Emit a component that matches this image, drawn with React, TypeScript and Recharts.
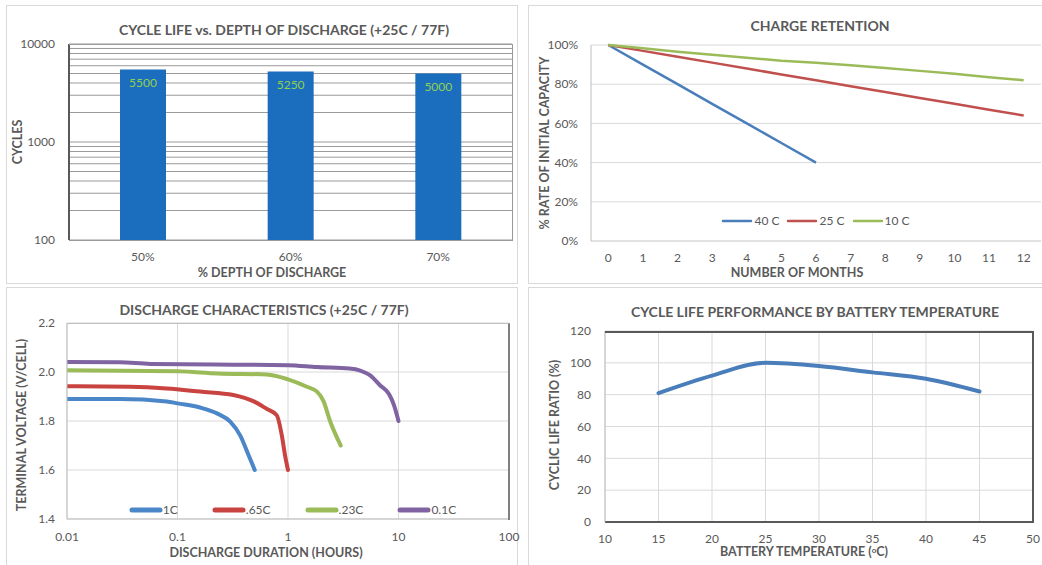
import React from "react";
import {
  BarChart, Bar, LineChart, Line, XAxis, YAxis, CartesianGrid, LabelList, Legend,
} from "recharts";

// ---- cycle life vs depth of discharge
const DOD_LABELS = ["50%", "60%", "70%"];
const DOD_CYCLES = [5500, 5250, 5000];
const CYCLE_TICKS = [100, 200, 300, 400, 500, 600, 700, 800, 900, 1000, 2000, 3000, 4000, 5000, 6000, 7000, 8000, 9000, 10000];
const CYCLE_LABELED = [100, 1000, 10000];

// ---- charge retention
const MONTHS = [0, 1, 2, 3, 4, 5, 6, 7, 8, 9, 10, 11, 12];
const RET_40C = [1.0, 0.9, 0.8, 0.7, 0.6, 0.5, 0.4, null, null, null, null, null, null];
const RET_25C = [1.0, 0.97, 0.94, 0.91, 0.88, 0.85, 0.82, 0.79, 0.76, 0.73, 0.7, 0.67, 0.64];
const RET_10C = [1.0, 0.983, 0.966, 0.95, 0.935, 0.92, 0.91, 0.897, 0.883, 0.868, 0.853, 0.836, 0.82];
const RET_SERIES = ["40 C", "25 C", "10 C"];
const PCT_TICKS = [0, 0.2, 0.4, 0.6, 0.8, 1.0];

// ---- discharge characteristics (hours, volts/cell)
const D1C_H = [0.01, 0.03, 0.08, 0.1, 0.16, 0.23, 0.3, 0.37, 0.44, 0.5];
const D1C_V = [1.89, 1.89, 1.88, 1.872, 1.855, 1.83, 1.797, 1.74, 1.66, 1.6];
const D065_H = [0.01, 0.037, 0.08, 0.16, 0.32, 0.49, 0.64, 0.79, 0.88, 0.94, 1.0];
const D065_V = [1.942, 1.94, 1.933, 1.92, 1.906, 1.88, 1.85, 1.824, 1.74, 1.66, 1.6];
const D023_H = [0.01, 0.1, 0.23, 0.64, 1.0, 1.48, 1.83, 2.1, 2.4, 3.0];
const D023_V = [2.007, 2.003, 1.994, 1.99, 1.97, 1.94, 1.92, 1.88, 1.8, 1.7];
const D01_H = [0.01, 0.03, 0.057, 0.32, 1.0, 1.83, 3.6, 4.5, 5.5, 6.8, 8.2, 9.1, 10];
const D01_V = [2.041, 2.04, 2.033, 2.03, 2.028, 2.02, 2.014, 2.006, 1.987, 1.946, 1.91, 1.865, 1.8];
const DIS_SERIES = ["1C", ".65C", ".23C", "0.1C"];
const HOUR_TICKS = [0.01, 0.1, 1, 10, 100];
const VOLT_TICKS = [1.4, 1.6, 1.8, 2.0, 2.2];

// ---- cycle life by temperature
const TEMPS = [15, 20, 25, 30, 35, 40, 45];
const LIFE_RATIO = [81, 92, 100, 98, 94, 90, 82];
const TEMP_TICKS = [10, 15, 20, 25, 30, 35, 40, 45, 50];
const RATIO_TICKS = [0, 20, 40, 60, 80, 100, 120];

const TXT = "#595959";
const TICK = { fill: TXT, fontSize: 12 };
const LIGHT = "#d9d9d9";

const zip = (xs: number[], ys: number[]) => xs.map((x, i) => ({ x, y: ys[i] }));

function Text({ x, y, children, rotate, size = 12.5 }: any) {
  return (
    <div
      style={{
        position: "absolute", left: x, top: y, whiteSpace: "nowrap",
        transform: `translate(-50%, -50%)${rotate ? " rotate(-90deg)" : ""}`,
        fontWeight: 700, fontSize: size, color: TXT, lineHeight: 1,
      }}
    >
      {children}
    </div>
  );
}

function Box({ x, y, w, h, style }: any) {
  return <div style={{ position: "absolute", left: x, top: y, width: w, height: h, boxSizing: "border-box", pointerEvents: "none", ...style }} />;
}

function LineLegend({ payload, order, thick, gap }: any) {
  const items = [...(payload || [])].sort((a: any, b: any) => order.indexOf(a.value) - order.indexOf(b.value));
  return (
    <div style={{ display: "flex", justifyContent: "center", gap, fontSize: 12, color: TXT }}>
      {items.map((p: any) => (
        <div key={p.value} style={{ display: "flex", alignItems: "center" }}>
          <svg width={34} height={8}>
            <line x1={3} y1={4} x2={31} y2={4} stroke={p.color} strokeWidth={thick} strokeLinecap="round" />
          </svg>
          <span>{p.value}</span>
        </div>
      ))}
    </div>
  );
}

export default function App() {
  const dodData = DOD_LABELS.map((d, i) => ({ dod: d, cycles: DOD_CYCLES[i] }));
  const retData = MONTHS.map((m, i) => ({ month: m, c40: RET_40C[i], c25: RET_25C[i], c10: RET_10C[i] }));
  const tempData = zip(TEMPS, LIFE_RATIO);

  return (
    <div style={{ position: "absolute", left: 0, top: 0, width: 1042, height: 565, background: "#fff", fontFamily: "Lato, sans-serif", overflow: "hidden" }}>
      {/* panel frames */}
      <Box x={6} y={5} w={512} h={279} style={{ border: `1px solid ${LIGHT}` }} />
      <Box x={528} y={5} w={520} h={279} style={{ border: `1px solid ${LIGHT}` }} />
      <Box x={6} y={287} w={512} h={280} style={{ border: `1px solid ${LIGHT}` }} />
      <Box x={528} y={287} w={520} h={280} style={{ border: `1px solid ${LIGHT}` }} />

      {/* top-left: cycle life vs depth of discharge */}
      <div style={{ position: "absolute", left: 0, top: 0 }}>
        <BarChart width={520} height={285} data={dodData} margin={{ top: 44, right: 8, bottom: 15, left: 19 }}>
          <CartesianGrid vertical={false} stroke="#9a9a9a" />
          <XAxis dataKey="dod" tickLine={false} axisLine={false} tick={TICK} tickSize={0} tickMargin={12} height={30} />
          <YAxis
            scale="log" domain={[100, 10000]} ticks={CYCLE_TICKS} interval={0} allowDataOverflow
            tickFormatter={(v: number) => (CYCLE_LABELED.includes(v) ? String(v) : "")}
            tickLine={false} axisLine={{ stroke: "#595959", strokeWidth: 2 }} tick={TICK} tickSize={0} tickMargin={14} width={50}
          />
          <Bar dataKey="cycles" fill="#1a6ebd" barSize={46} isAnimationActive={false}>
            <LabelList dataKey="cycles" position="insideTop" offset={9} fill="#92d050" fontSize={12} />
          </Bar>
        </BarChart>
      </div>
      <Box x={69} y={44} w={444} h={197} style={{ borderTop: "1px solid #9a9a9a", borderRight: "1px solid #9a9a9a", borderBottom: "1px solid #9a9a9a" }} />
      <Text x={284} y={30} size={14}>CYCLE LIFE vs. DEPTH OF DISCHARGE (+25C / 77F)</Text>
      <Text x={18} y={142} rotate>CYCLES</Text>
      <Text x={272} y={273}>% DEPTH OF DISCHARGE</Text>

      {/* top-right: charge retention */}
      <div style={{ position: "absolute", left: 520, top: 0 }}>
        <LineChart width={522} height={285} data={retData} margin={{ top: 45, right: 1, bottom: 14, left: 26 }}>
          <CartesianGrid vertical={false} stroke={LIGHT} />
          <XAxis dataKey="month" type="number" domain={[-0.5, 12.5]} ticks={MONTHS} interval={0} tickLine={false} axisLine={{ stroke: LIGHT }} tick={TICK} tickSize={0} tickMargin={12} height={30} />
          <YAxis domain={[0, 1]} ticks={PCT_TICKS} interval={0} tickFormatter={(v: number) => `${Math.round(v * 100)}%`} tickLine={false} axisLine={{ stroke: "#bfbfbf" }} tick={TICK} tickSize={0} tickMargin={13} width={45} />
          <Line dataKey="c40" name={RET_SERIES[0]} stroke="#4a7ebb" strokeWidth={2.5} dot={false} isAnimationActive={false} />
          <Line dataKey="c25" name={RET_SERIES[1]} stroke="#c0504d" strokeWidth={2.5} dot={false} isAnimationActive={false} />
          <Line dataKey="c10" name={RET_SERIES[2]} stroke="#9bbb59" strokeWidth={2.5} dot={false} isAnimationActive={false} />
          <Legend layout="horizontal" verticalAlign="middle" wrapperStyle={{ top: 213, left: 180, width: 230 }} content={(p: any) => <LineLegend payload={p.payload} order={RET_SERIES} thick={2.5} gap={6} />} />
        </LineChart>
      </div>
      <Text x={820} y={26} size={14}>CHARGE RETENTION</Text>
      <Text x={545} y={143} rotate>% RATE OF INITIAL CAPACITY</Text>
      <Text x={797} y={273}>NUMBER OF MONTHS</Text>

      {/* bottom-left: discharge characteristics */}
      <div style={{ position: "absolute", left: 0, top: 285 }}>
        <LineChart width={520} height={280} margin={{ top: 38, right: 11, bottom: 16, left: 27 }}>
          <CartesianGrid stroke={LIGHT} />
          <XAxis dataKey="x" type="number" scale="log" domain={[0.01, 100]} ticks={HOUR_TICKS} interval={0} allowDataOverflow
            tickFormatter={(v: number) => String(v)} tickLine={false} axisLine={{ stroke: "#bfbfbf" }} tick={TICK} tickSize={0} tickMargin={13} height={30} />
          <YAxis dataKey="y" type="number" domain={[1.4, 2.2]} ticks={VOLT_TICKS} interval={0} tickFormatter={(v: number) => v.toFixed(1)}
            tickLine={false} axisLine={{ stroke: "#bfbfbf" }} tick={TICK} tickSize={0} tickMargin={12} width={40} />
          <Line data={zip(D1C_H, D1C_V)} dataKey="y" name={DIS_SERIES[0]} type="monotone" stroke="#4a86c8" strokeWidth={4} strokeLinecap="round" dot={false} isAnimationActive={false} />
          <Line data={zip(D065_H, D065_V)} dataKey="y" name={DIS_SERIES[1]} type="monotone" stroke="#c94340" strokeWidth={4} strokeLinecap="round" dot={false} isAnimationActive={false} />
          <Line data={zip(D023_H, D023_V)} dataKey="y" name={DIS_SERIES[2]} type="monotone" stroke="#9bbb59" strokeWidth={4} strokeLinecap="round" dot={false} isAnimationActive={false} />
          <Line data={zip(D01_H, D01_V)} dataKey="y" name={DIS_SERIES[3]} type="monotone" stroke="#8064a2" strokeWidth={4} strokeLinecap="round" dot={false} isAnimationActive={false} />
          <Legend layout="horizontal" verticalAlign="middle" wrapperStyle={{ top: 217, left: 125, width: 335 }} content={(p: any) => <LineLegend payload={p.payload} order={DIS_SERIES} thick={5} gap={34} />} />
        </LineChart>
      </div>
      <Box x={67} y={323} w={443} h={197} style={{ borderTop: "1px solid #bfbfbf", borderRight: "2px solid #7f7f7f" }} />
      <Text x={264} y={310} size={14}>DISCHARGE CHARACTERISTICS (+25C / 77F)</Text>
      <Text x={22} y={425} rotate>TERMINAL VOLTAGE (V/CELL)</Text>
      <Text x={266} y={553}>DISCHARGE DURATION (HOURS)</Text>

      {/* bottom-right: cycle life by temperature */}
      <div style={{ position: "absolute", left: 520, top: 285 }}>
        <LineChart width={522} height={280} data={tempData} margin={{ top: 46, right: 9, bottom: 15, left: 45 }}>
          <CartesianGrid stroke={LIGHT} />
          <XAxis dataKey="x" type="number" domain={[10, 50]} ticks={TEMP_TICKS} interval={0} tickLine={false} axisLine={{ stroke: "#595959", strokeWidth: 2 }} tick={TICK} tickSize={0} tickMargin={12} height={28} />
          <YAxis domain={[0, 120]} ticks={RATIO_TICKS} interval={0} tickLine={false} axisLine={{ stroke: "#bfbfbf" }} tick={TICK} tickSize={0} tickMargin={14} width={40} />
          <Line dataKey="y" type="monotone" stroke="#4a7ebb" strokeWidth={4} strokeLinecap="round" dot={false} isAnimationActive={false} />
        </LineChart>
      </div>
      <Box x={605} y={331} w={429} h={192} style={{ borderTop: "2px solid #595959", borderRight: "2px solid #595959" }} />
      <Text x={815} y={312} size={14}>CYCLE LIFE PERFORMANCE BY BATTERY TEMPERATURE</Text>
      <Text x={555} y={425} rotate>CYCLIC LIFE RATIO (%)</Text>
      <Text x={804} y={552}>
        BATTERY TEMPERATURE (<sup style={{ fontSize: 8, verticalAlign: "top" }}>o</sup>C)
      </Text>
    </div>
  );
}
